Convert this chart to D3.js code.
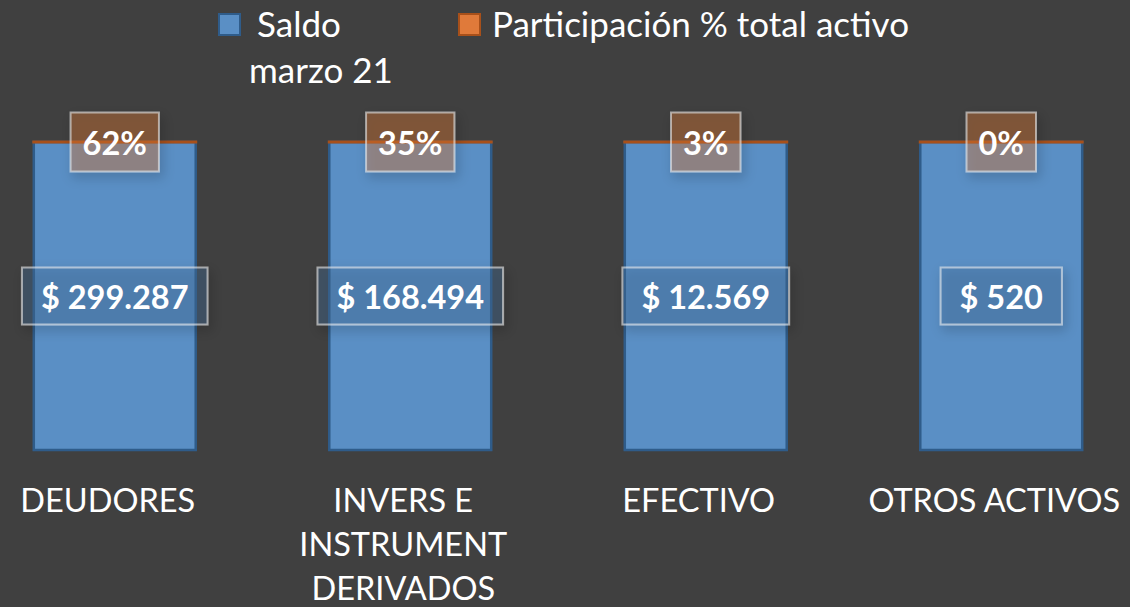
<!DOCTYPE html>
<html>
<head>
<meta charset="utf-8">
<script src="https://cdn.jsdelivr.net/npm/d3@7/dist/d3.min.js"></script>
<style>
  html, body { margin: 0; padding: 0; background: #404040; }
  svg { display: block; }
  text { font-family: Lato, "Open Sans", sans-serif; fill: #ffffff; }
</style>
</head>
<body>
<svg id="chart" width="1130" height="607"></svg>
<script>
// ---- data ----
const categories = ["DEUDORES", "INVERS E INSTRUMENT DERIVADOS", "EFECTIVO", "OTROS ACTIVOS"];
const saldo = [299287, 168494, 12569, 520];
const participacion = [0.62, 0.35, 0.03, 0.001];
const seriesNames = ["Saldo marzo 21", "Participación % total activo"];

// ---- setup ----
const W = 1130, H = 607;
const svg = d3.select("#chart");
svg.append("rect").attr("width", W).attr("height", H).attr("fill", "#404040");

const defs = svg.append("defs");
const f = defs.append("filter").attr("id", "shadow")
  .attr("x", "-30%").attr("y", "-30%").attr("width", "160%").attr("height", "160%");
f.append("feDropShadow").attr("dx", 3).attr("dy", 5).attr("stdDeviation", 6)
  .attr("flood-color", "#000").attr("flood-opacity", 0.4);

const blueFill = "#5A8FC5", blueStroke = "#2F5C8A";
const orangeFill = "#E07A3A", orangeStroke = "#A8501A";

const x = d3.scaleBand().domain(categories)
  .range([-33, 1149]).paddingInner(0.452).paddingOuter(0.226);
const y = d3.scaleLinear().domain([0, 1]).range([450, 142]);

const data = categories.map((c, i) => {
  const total = saldo[i] + participacion[i];
  return { cat: c, saldo: saldo[i], pct: participacion[i], s0: 0, s1: saldo[i] / total, p0: saldo[i] / total, p1: 1 };
});

// ---- bars ----
const g = svg.append("g");
g.selectAll("rect.saldo").data(data).join("rect")
  .attr("class", "saldo")
  .attr("x", d => x(d.cat)).attr("width", x.bandwidth())
  .attr("y", d => y(d.s1)).attr("height", d => y(d.s0) - y(d.s1))
  .attr("fill", blueFill).attr("stroke", blueStroke).attr("stroke-width", 2.5);

g.selectAll("rect.pct").data(data).join("rect")
  .attr("class", "pct")
  .attr("x", d => x(d.cat)).attr("width", x.bandwidth())
  .attr("y", d => y(d.p1)).attr("height", d => Math.max(0.01, y(d.p0) - y(d.p1)))
  .attr("fill", orangeFill).attr("stroke", orangeStroke).attr("stroke-width", 3);

// ---- data labels ----
const loc = d3.formatLocale({ decimal: ",", thousands: ".", grouping: [3], currency: ["$ ", ""] });
const fmtMoney = loc.format("$,.0f");
const fmtPct = v => Math.round(v * 100) + "%";

function addLabel(cx, cy, txt, padX, h, fill) {
  const lg = svg.append("g");
  const r = lg.append("rect");
  const t = lg.append("text").attr("x", cx).attr("y", cy)
    .attr("text-anchor", "middle").attr("dominant-baseline", "central")
    .style("font-weight", 700).style("font-size", "32.5px").text(txt);
  const w = t.node().getComputedTextLength() + 2 * padX;
  r.attr("x", cx - w / 2).attr("y", cy - h / 2).attr("width", w).attr("height", h)
    .attr("fill", fill).attr("stroke", "rgba(235,235,235,0.6)").attr("stroke-width", 2)
    .attr("filter", "url(#shadow)");
}

data.forEach(d => {
  const cx = x(d.cat) + x.bandwidth() / 2;
  addLabel(cx, (y(d.s0) + y(d.s1)) / 2, fmtMoney(d.saldo), 19, 57, "rgba(70,110,155,0.35)");
});
data.forEach(d => {
  const cx = x(d.cat) + x.bandwidth() / 2;
  addLabel(cx, (y(d.p0) + y(d.p1)) / 2, fmtPct(d.pct), 12, 59, "rgba(230,122,50,0.35)");
});

// ---- category labels ----
const maxW = 290, lineH = 44;
data.forEach(d => {
  const cx = x(d.cat) + x.bandwidth() / 2 - 7;
  const t = svg.append("text").attr("text-anchor", "middle")
    .style("font-size", "32.5px");
  const words = d.cat.split(" ");
  let lines = [], cur = [];
  const probe = t.append("tspan");
  words.forEach(wd => {
    const test = cur.concat([wd]).join(" ");
    probe.text(test);
    if (probe.node().getComputedTextLength() > maxW && cur.length) {
      lines.push(cur.join(" ")); cur = [wd];
    } else cur.push(wd);
  });
  lines.push(cur.join(" "));
  probe.remove();
  lines.forEach((ln, i) => {
    t.append("tspan").attr("x", cx).attr("y", 512 + i * lineH).text(ln);
  });
});

// ---- legend ----
const leg = svg.append("g").style("font-size", "35px");
leg.append("rect").attr("x", 219).attr("y", 14).attr("width", 21).attr("height", 21)
  .attr("fill", blueFill).attr("stroke", blueStroke).attr("stroke-width", 2);
const lt = leg.append("text");
lt.append("tspan").attr("x", 257).attr("y", 37).text(seriesNames[0].split(" ")[0]);
lt.append("tspan").attr("x", 249).attr("y", 83).text(seriesNames[0].split(" ").slice(1).join(" "));
leg.append("rect").attr("x", 459).attr("y", 14).attr("width", 21).attr("height", 21)
  .attr("fill", orangeFill).attr("stroke", orangeStroke).attr("stroke-width", 2);
leg.append("text").attr("x", 492).attr("y", 37).text(seriesNames[1]);
</script>
</body>
</html>
